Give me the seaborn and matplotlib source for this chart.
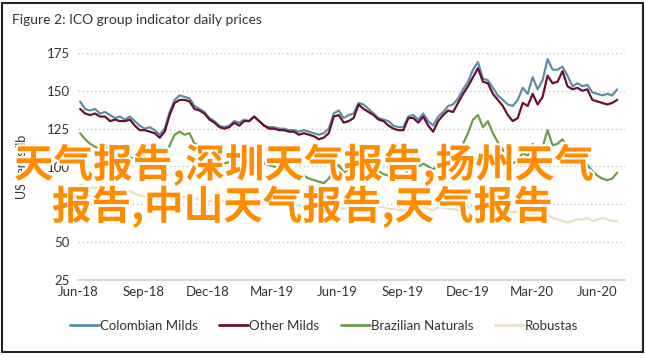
import pandas as pd
import matplotlib.pyplot as plt
import matplotlib.patheffects as pe
from matplotlib.patches import Rectangle
import seaborn as sns

# weekly readings, Jun 2018 - Jun 2020 (US cents/lb)
dates = pd.date_range('2018-06-04', periods=109, freq='7D')

colombian = [143, 138, 137, 138, 135, 136, 134, 132, 133, 131,
             133, 130, 127, 125, 126, 124, 121, 125, 136, 144,
             147, 146, 145, 140, 138, 136, 132, 130, 127, 126,
             127, 130, 129, 131, 130, 133, 130, 127, 126, 126,
             125, 125, 124, 124, 123, 124, 123, 122, 121, 122,
             125, 135, 137, 132, 134, 135, 142, 141, 138, 135,
             132, 131, 130, 127, 126, 126, 133, 134, 131, 135,
             130, 127, 133, 136, 140, 141, 145, 151, 156, 164,
             169, 158, 157, 152, 147, 144, 141, 140, 144, 152,
             148, 159, 151, 157, 171, 164, 164, 166, 160, 153,
             155, 153, 154, 149, 148, 147, 148, 147, 151]
other = [138, 135, 134, 135, 133, 133, 130, 131, 130, 130,
         131, 127, 124, 124, 123, 122, 119, 123, 134, 142,
         144, 144, 143, 138, 137, 135, 131, 129, 126, 125,
         126, 129, 127, 130, 130, 133, 130, 127, 125, 125,
         124, 124, 123, 123, 121, 122, 121, 120, 118, 119,
         122, 133, 134, 129, 130, 132, 141, 138, 136, 134,
         131, 130, 127, 125, 124, 124, 132, 132, 129, 133,
         127, 123, 130, 134, 137, 136, 142, 148, 153, 159,
         165, 156, 155, 148, 144, 140, 134, 130, 132, 142,
         140, 148, 141, 146, 160, 155, 156, 163, 153, 151,
         152, 150, 151, 144, 143, 142, 141, 142, 144]
brazilian = [122, 118, 115, 113, 112, 113, 110, 108, 107, 105,
             106, 105, 104, 103, 102, 101, 100, 106, 114, 121,
             123, 121, 122, 115, 114, 111, 109, 107, 103, 102,
             103, 104, 105, 107, 104, 107, 104, 102, 101, 100,
             99, 98, 98, 96, 95, 94, 92, 91, 90, 89,
             92, 98, 101, 96, 98, 101, 107, 104, 102, 99,
             97, 95, 94, 93, 92, 93, 98, 99, 100, 102,
             100, 98, 101, 100, 104, 103, 111, 115, 122, 131,
             134, 126, 130, 122, 116, 111, 104, 102, 104, 109,
             107, 115, 109, 113, 124, 114, 115, 118, 112, 110,
             107, 103, 101, 97, 94, 92, 91, 92, 96]
robustas = [88, 87, 86, 86, 85, 86, 85, 84, 84, 83,
            84, 82, 81, 80, 80, 79, 79, 80, 81, 82,
            81, 80, 80, 79, 78, 77, 77, 78, 78, 77,
            78, 79, 78, 78, 77, 78, 77, 77, 76, 76,
            75, 75, 74, 75, 74, 73, 73, 72, 72, 71,
            72, 73, 73, 72, 73, 74, 75, 76, 75, 74,
            74, 73, 72, 72, 71, 71, 72, 73, 72, 73,
            72, 71, 73, 73, 72, 72, 71, 72, 73, 74,
            74, 73, 72, 72, 71, 71, 70, 70, 70, 69,
            69, 68, 68, 67, 68, 66, 65, 64, 63, 64,
            65, 65, 66, 64, 65, 66, 65, 64, 64]

names = ['Colombian Milds', 'Other Milds', 'Brazilian Naturals', 'Robustas']
colors = ['#5e8fa6', '#6b0f33', '#6f9c47', '#e8dfc4']
xticks = pd.to_datetime(['2018-06-01', '2018-09-01', '2018-12-01', '2019-03-01',
                         '2019-06-01', '2019-09-01', '2019-12-01', '2020-03-01',
                         '2020-06-01'])
xticklabels = ['Jun-18', 'Sep-18', 'Dec-18', 'Mar-19', 'Jun-19',
               'Sep-19', 'Dec-19', 'Mar-20', 'Jun-20']
yticks = [25, 50, 75, 100, 125, 150, 175]

df = pd.DataFrame({'date': list(dates) * 4,
                   'value': colombian + other + brazilian + robustas,
                   'group': sum([[n] * len(dates) for n in names], [])})

sns.set_style('white')
plt.rcParams['font.family'] = ['Lato', 'DejaVu Sans']

fig = plt.figure(figsize=(6.46, 3.6), dpi=100)
W, H = 646, 360
ax = fig.add_axes([78 / W, 1 - 280 / H, (625 - 78) / W, (280 - 53) / H])

sns.lineplot(data=df, x='date', y='value', hue='group', hue_order=names,
             palette=colors, linewidth=1.6, ax=ax, legend=False)

ax.set_xlim(pd.Timestamp('2018-06-01'), pd.Timestamp('2020-07-10'))
ax.set_ylim(25, 175)
ax.set_xticks(xticks)
ax.set_xticklabels(xticklabels)
ax.set_yticks(yticks)
ax.tick_params(axis='both', length=0, labelsize=9.5, colors='#333333', pad=6)
ax.tick_params(axis='x', pad=4)
ax.set_xlabel('')
ax.set_ylabel('US cents/lb', fontsize=9, color='#333333', labelpad=14)
for y in yticks[1:]:
    ax.axhline(y, color='#c8c8c8', linestyle=(0, (1, 2)), linewidth=1, zorder=0)
for s in ['top', 'right', 'left']:
    ax.spines[s].set_visible(False)
ax.spines['bottom'].set_color('#d9d9d9')
ax.spines['bottom'].set_linewidth(1.5)

handles = [plt.Line2D([], [], color=c, linewidth=2) for c in colors]
fig.legend(handles, names, loc='center', bbox_to_anchor=(324 / W, 1 - 326 / H),
           ncol=4, frameon=False, fontsize=9.5, handlelength=2.2,
           handletextpad=0.1, columnspacing=1.6, labelcolor='#333333')

fig.text(12 / W, 1 - 20 / H, 'Figure 2: ICO group indicator daily prices',
         fontsize=10, color='#333333', va='center', ha='left')

fig.add_artist(Rectangle((2 / W, 1 - 352 / H), 641 / W, 349 / H,
                         transform=fig.transFigure, fill=False,
                         edgecolor='#222222', linewidth=1.5))

overlay = dict(fontsize=28.5, color='#ff8c00', fontweight='bold', ha='left',
               va='center', family=['Noto Sans CJK SC', 'DejaVu Sans'],
               path_effects=[pe.withStroke(linewidth=3, foreground='white')])
fig.text(14 / W, 1 - 165 / H, '天气报告,深圳天气报告,扬州天气', **overlay)
fig.text(52 / W, 1 - 207 / H, '报告,中山天气报告,天气报告', **overlay)

fig.savefig('out.png', dpi=100)
